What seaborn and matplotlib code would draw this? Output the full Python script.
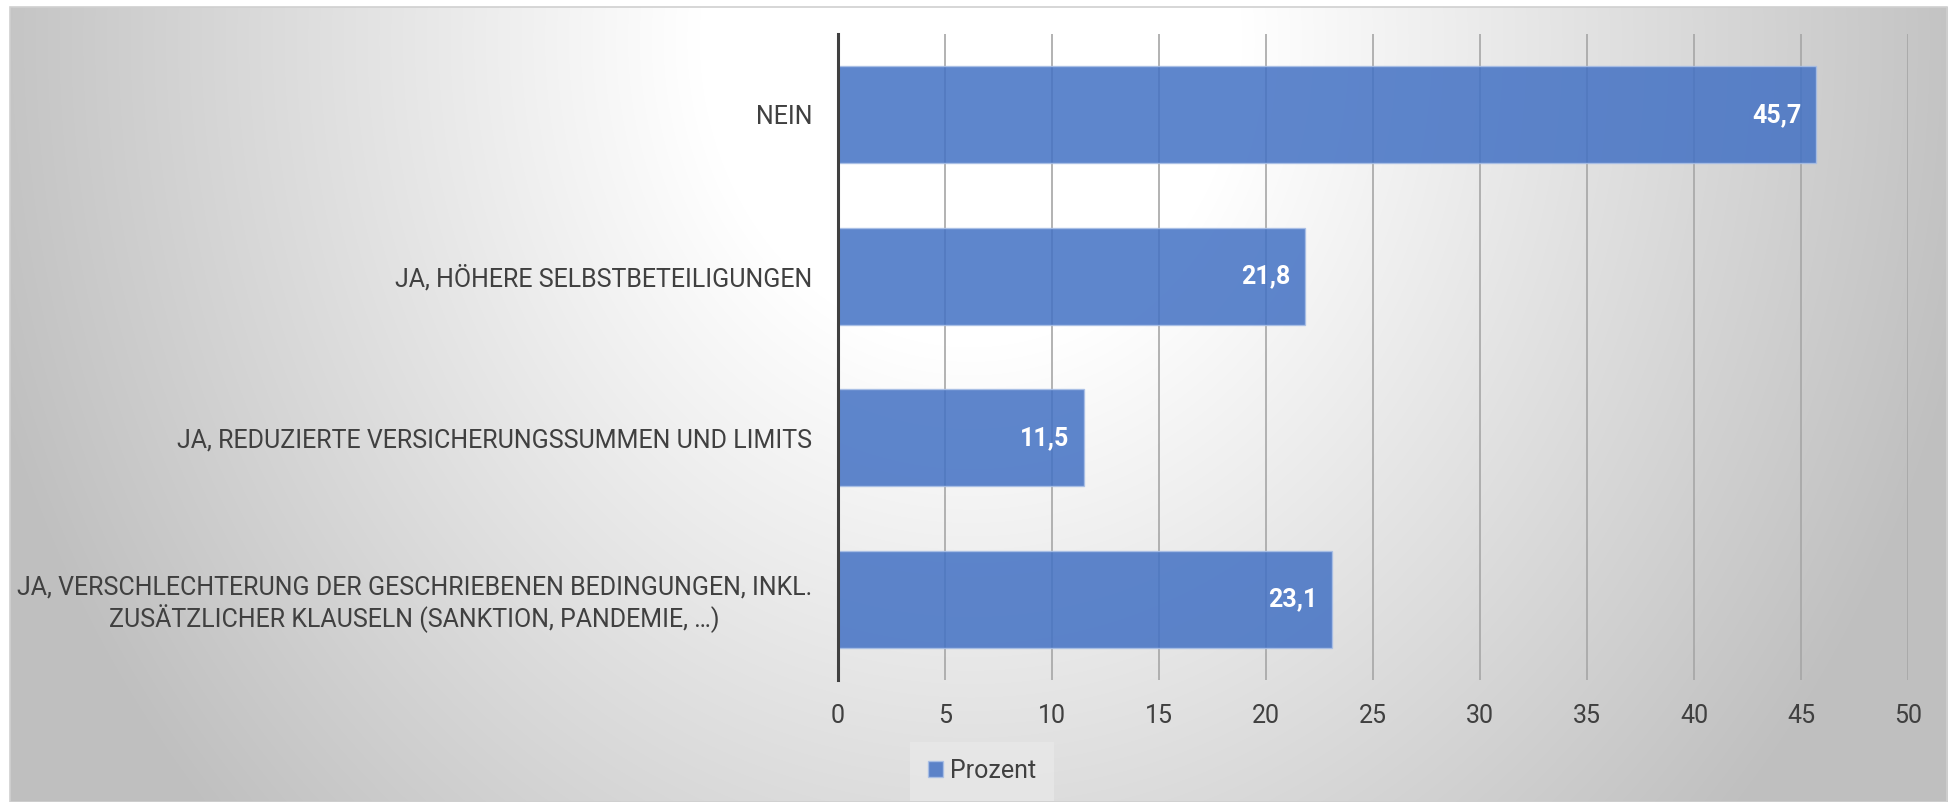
import numpy as np
import pandas as pd
import matplotlib
matplotlib.use("Agg")
import matplotlib.pyplot as plt
from matplotlib.patches import Rectangle
import seaborn as sns

# data
categories = [
    "NEIN",
    "JA, HÖHERE SELBSTBETEILIGUNGEN",
    "JA, REDUZIERTE VERSICHERUNGSSUMMEN UND LIMITS",
    "JA, VERSCHLECHTERUNG DER GESCHRIEBENEN BEDINGUNGEN, INKL.\nZUSÄTZLICHER KLAUSELN (SANKTION, PANDEMIE, …)",
]
values = [45.7, 21.8, 11.5, 23.1]
value_labels = ["45,7", "21,8", "11,5", "23,1"]
x_ticks = [0, 5, 10, 15, 20, 25, 30, 35, 40, 45, 50]
series_name = "Prozent"

BAR_COLOR = "#4472C4"
TEXT_COLOR = "#404040"
FS = 18

sns.set_theme(style="white")
plt.rcParams["font.family"] = ["Roboto", "DejaVu Sans"]

W, H = 1952, 802
fig = plt.figure(figsize=(W / 100, H / 100), dpi=100)
fig.patch.set_facecolor("white")

# radial grey background of the chart area
x0, y0, x1, y1 = 10, 7, 1947, 802
bg = fig.add_axes([x0 / W, 0, (x1 - x0) / W, (y1 - y0) / H])
yy, xx = np.mgrid[y0:y1, x0:x1]
t = np.sqrt(((xx - 970) / 970.0) ** 2 + ((yy - 40) / 1100.0) ** 2)
frac = np.clip((t - 0.28) / 0.72, 0, 1.08)
shade = (255 - 59 * frac) / 255.0
bg.imshow(np.dstack([shade, shade, shade]), aspect="auto", interpolation="bilinear")
bg.set_axis_off()
fig.patches.append(Rectangle((x0 / W, 0), (x1 - x0) / W, (y1 - y0) / H,
                             transform=fig.transFigure, fill=False,
                             edgecolor="#d0d0d0", lw=1.2))

# main axes
ax = fig.add_axes([838 / W, 1 - 680 / H, (1908 - 838) / W, (680 - 34) / H])
ax.set_facecolor("none")

df = pd.DataFrame({"Kategorie": categories, "Prozent": values})
sns.barplot(data=df, x="Prozent", y="Kategorie", color=BAR_COLOR, saturation=1,
            width=0.6, alpha=0.86, edgecolor="#a9bfe6", linewidth=1.0,
            label=series_name, ax=ax, zorder=3)

ax.set_xlim(0, 50)
ax.set_ylim(3.5, -0.5)
ax.set_xticks(x_ticks)
ax.set_xlabel("")
ax.set_ylabel("")
ax.xaxis.grid(True, color="#a6a6a6", lw=1.2, zorder=1)
ax.yaxis.grid(False)
ax.set_axisbelow(True)
for s in ["top", "right", "bottom"]:
    ax.spines[s].set_visible(False)
ax.spines["left"].set_color(TEXT_COLOR)
ax.spines["left"].set_linewidth(2.2)
ax.spines["left"].set_zorder(4)

ax.tick_params(axis="y", length=0, pad=18.5, labelsize=FS, labelcolor=TEXT_COLOR)
ax.tick_params(axis="x", length=0, pad=17, labelsize=FS, labelcolor=TEXT_COLOR)
for lbl in ax.get_yticklabels():
    lbl.set_multialignment("center")
    lbl.set_linespacing(1.2)

for i, (v, s) in enumerate(zip(values, value_labels)):
    ax.annotate(s, xy=(v, i), xytext=(-10.5, 0), textcoords="offset points",
                ha="right", va="center", color="white", fontweight="bold",
                fontsize=FS, zorder=5)

handles, labels = ax.get_legend_handles_labels()
if ax.get_legend() is not None:
    ax.get_legend().remove()
leg = fig.legend(handles[:1], labels[:1], loc="center",
                 bbox_to_anchor=(982 / W, 1 - 771 / H), frameon=True,
                 fontsize=FS, handlelength=0.6, handleheight=0.6,
                 handletextpad=0.3, borderpad=0.45, borderaxespad=0,
                 fancybox=False)
leg.get_frame().set_facecolor("#e8e8e8")
leg.get_frame().set_edgecolor("none")
leg.get_frame().set_boxstyle("square", pad=0.25)
for txt in leg.get_texts():
    txt.set_color(TEXT_COLOR)

fig.savefig("out.png", dpi=100)
